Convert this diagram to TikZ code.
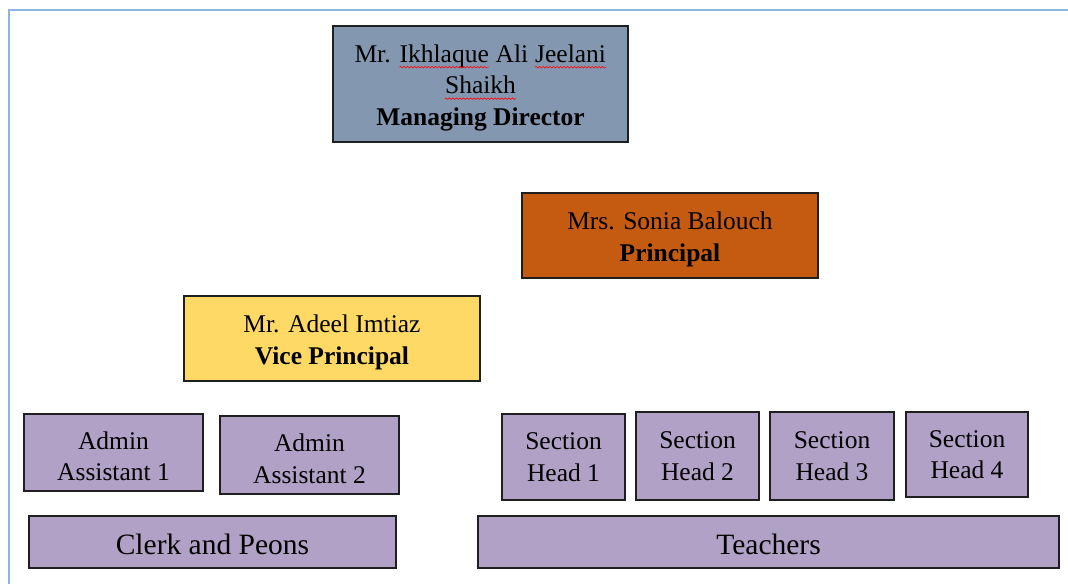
\documentclass[tikz,border=0pt]{standalone}
\usepackage{fontspec}
\setmainfont{Liberation Serif}
\usepackage{tikz}
\usetikzlibrary{decorations.pathmorphing}
\definecolor{framebl}{HTML}{8DB4E2}
\definecolor{mdblue}{HTML}{8497B0}
\definecolor{prorange}{HTML}{C55A11}
\definecolor{vpyellow}{HTML}{FFD966}
\definecolor{staff}{HTML}{B2A1C7}
\definecolor{edge}{HTML}{1F1F1F}
\newcommand\topstrut{\rule{0pt}{25pt}}
\newcommand\spellmark[1]{\tikz[baseline=(w.base)]{\node[inner sep=0pt, minimum width=0pt, minimum height=0pt,
        draw=none, fill=none] (w) {#1};
    \draw[red, line width=0.6pt, decorate, decoration={snake, amplitude=0.8pt, segment length=3.5pt}]
        ([yshift=-5pt]w.base west) -- ([yshift=-5pt]w.base east);}}
\tikzset{%
    orgbox/.style={draw=edge, line width=1.1pt, inner sep=0pt, align=center,
        font=\fontsize{25.5}{31.5}\selectfont},
    staffbox/.style={orgbox, fill=staff},
    staffbar/.style={orgbox, fill=staff, font=\fontsize{29.5}{34}\selectfont}
}

\begin{document}
\begin{tikzpicture}[x=1pt, y=-1pt]
        \useasboundingbox (0,0) rectangle (1068,584);
        \draw[framebl, line width=2pt] (9,584) -- (9,10) -- (1068,10);

        \node[orgbox, fill=mdblue, minimum width=295pt, minimum height=116pt] (md) at (480.5,84)
            {\topstrut Mr. \spellmark{Ikhlaque} Ali \spellmark{Jeelani}\\\spellmark{Shaikh}\\\textbf{Managing Director}};
        \node[orgbox, fill=prorange, minimum width=296pt, minimum height=85pt] (principal) at (670,235.5)
            {\topstrut Mrs. Sonia Balouch\\\textbf{Principal}};
        \node[orgbox, fill=vpyellow, minimum width=296pt, minimum height=85pt] (vp) at (332,338.5)
            {\topstrut Mr. Adeel Imtiaz\\\textbf{Vice Principal}};

        \node[staffbox, minimum width=179pt, minimum height=77pt] (aa1) at (113.5,452.5) {\topstrut Admin\\Assistant 1};
        \node[staffbox, minimum width=179pt, minimum height=78pt] (aa2) at (309.5,455) {\topstrut Admin\\Assistant 2};
        \node[staffbar, minimum width=367pt, minimum height=52pt] (clerks) at (212.5,542) {\topstrut Clerk and Peons};

        \node[staffbox, minimum width=123pt, minimum height=86pt] (sh1) at (563.5,457) {Section\\Head 1};
        \node[staffbox, minimum width=123pt, minimum height=88pt] (sh2) at (697.5,456) {Section\\Head 2};
        \node[staffbox, minimum width=124pt, minimum height=88pt] (sh3) at (832,456) {Section\\Head 3};
        \node[staffbox, minimum width=122pt, minimum height=85pt] (sh4) at (967,454.5) {Section\\Head 4};
        \node[staffbar, minimum width=581pt, minimum height=52pt] (teachers) at (768.5,542) {\topstrut Teachers};
\end{tikzpicture}
\end{document}
